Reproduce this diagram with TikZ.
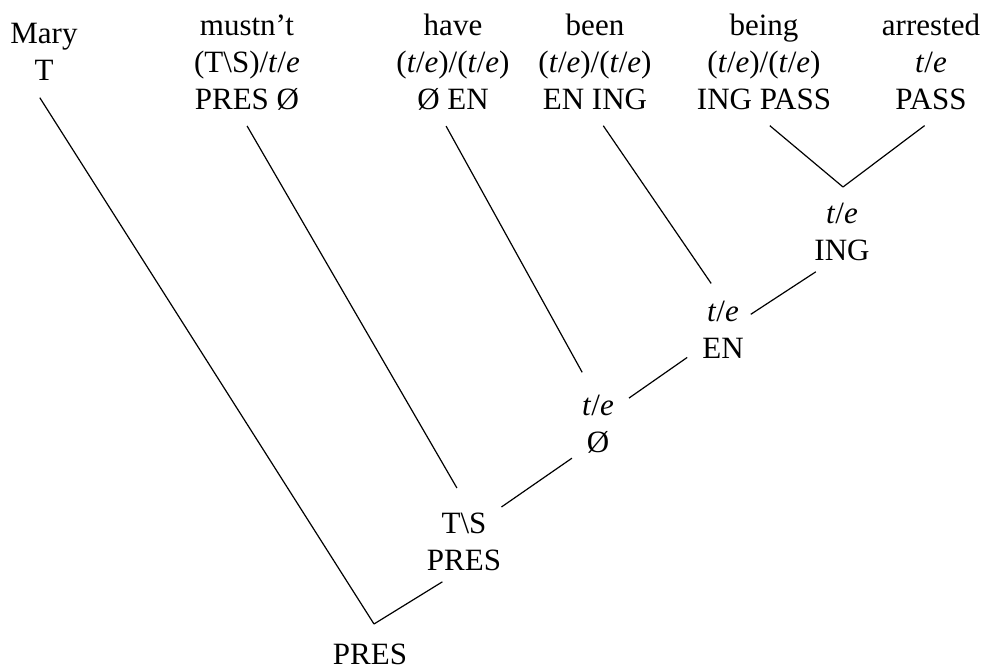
\documentclass[tikz,border=0pt]{standalone}
\usepackage{fontspec}
\setmainfont{Liberation Serif}
\usepackage{tikz}
\usetikzlibrary{positioning}
\newcommand{\tovere}{\textit{t}/\textit{e}}

\begin{document}
\begin{tikzpicture}[x=0.5pt,y=-0.5pt,
    word/.style={align=center, inner sep=0pt, anchor=north, font=\fontsize{15.5}{18.5}\selectfont},
    branch/.style={line width=0.6pt}]
  \useasboundingbox (0,0) rectangle (986,668);

  % Words
  \node[word] (mary) at (44,17) {\strut Mary\\T\strut};
  \node[word] (mustnt) at (247,9) {\strut mustn’t\\(T\textbackslash S)/\tovere\\PRES Ø\strut};
  \node[word] (have) at (453,9) {\strut have\\(\tovere)/(\tovere)\\Ø EN\strut};
  \node[word] (been) at (595,9) {\strut been\\(\tovere)/(\tovere)\\EN ING\strut};
  \node[word] (being) at (764,9) {\strut being\\(\tovere)/(\tovere)\\ING PASS\strut};
  \node[word] (arrested) at (931,9) {\strut arrested\\\tovere\\PASS\strut};

  % Phrases
  \node[word] (ing) at (842,197) {\strut\tovere\\ING\strut};
  \node[word] (en) at (723,295) {\strut\tovere\\EN\strut};
  \node[word] (oz) at (598,389) {\strut\tovere\\Ø\strut};
  \node[word] (ts) at (464,507) {\strut T\textbackslash S\\PRES\strut};
  \node[word] (root) at (370,638) {\strut PRES\strut};

  \coordinate (j0) at (374,624);
  \coordinate (j3) at (843,187);

  % Branches
  \draw[branch, shorten <=3.8pt] (being.south) -- (j3);
  \draw[branch, shorten >=4pt] (j3) -- (arrested.south);
  \draw[branch, shorten <=3pt, shorten >=7pt] (been.-85) -- (en.96);
  \draw[branch, shorten <=4pt] (en.33) -- (ing.-125);
  \draw[branch, shorten <=3pt, shorten >=9.5pt] (have.-100) -- (oz.100);
  \draw[branch, shorten <=9pt, shorten >=9pt] (oz.48) -- (en.-145);
  \draw[branch, shorten <=3pt, shorten >=11pt] (mustnt.-93) -- (ts.84);
  \draw[branch, shorten >=6pt] (ts.north east) -- (oz.-123);
  \draw[branch, shorten <=3.5pt] (mary.-102) -- (j0);
  \draw[branch] (j0) -- (ts.-120);
\end{tikzpicture}
\end{document}
